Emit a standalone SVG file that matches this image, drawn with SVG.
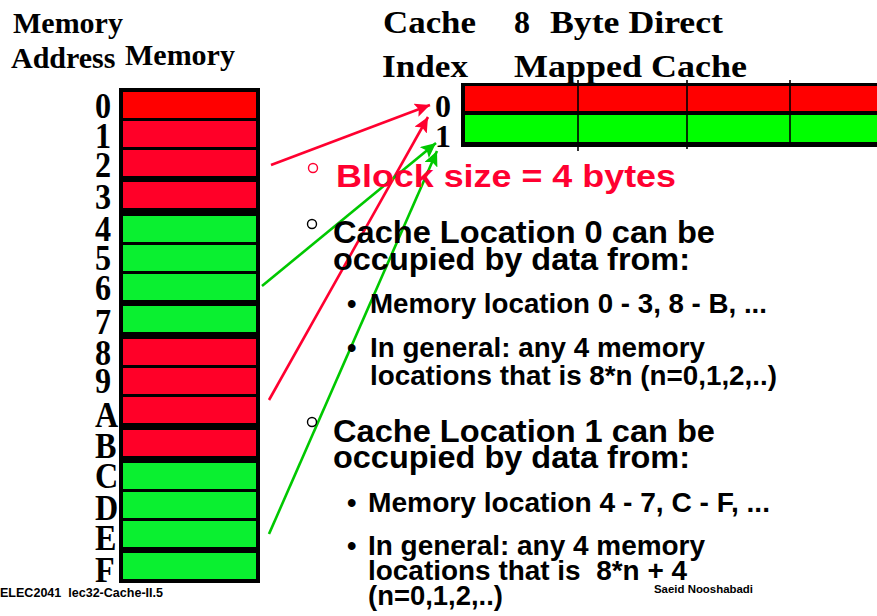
<svg xmlns="http://www.w3.org/2000/svg" width="877" height="616" viewBox="0 0 877 616">
<style>
.serif{font-family:"Liberation Serif","Times New Roman",serif;font-weight:bold;fill:#000}
.hdr{font-size:30px}
.chdr{font-size:32px}
.addr{font-size:35px}
.sans{font-family:"Liberation Sans",Arial,sans-serif;font-weight:bold;fill:#000}
.big{font-size:31px}
.mid{font-size:27px}
.foot{font-size:12px}
.mr{fill:#FF0028}
.mg{fill:#0AF030}
.ring{fill:none;stroke:#000;stroke-width:1.4}
.rl{stroke:#FF0030;stroke-width:2.6;fill:none}
.gl{stroke:#00C800;stroke-width:2.6;fill:none}
.div{stroke:#000;stroke-width:1.6}
</style>
<defs>
<marker id="ahR" markerUnits="userSpaceOnUse" markerWidth="16" markerHeight="14" refX="15" refY="7" orient="auto">
<path d="M0,0 L15,7 L0,14 L3,7 Z" fill="#FF0030"/>
</marker>
<marker id="ahG" markerUnits="userSpaceOnUse" markerWidth="16" markerHeight="14" refX="15" refY="7" orient="auto">
<path d="M0,0 L15,7 L0,14 L3,7 Z" fill="#00C800"/>
</marker>
</defs>
<rect width="877" height="616" fill="#fff"/>

<g id="headers">
<text class="serif hdr" x="13" y="33">Memory</text>
<text class="serif hdr" x="11" y="68">Address</text>
<text class="serif hdr" x="125" y="65">Memory</text>
<text class="serif chdr" x="383" y="33" textLength="93" lengthAdjust="spacingAndGlyphs">Cache</text>
<text class="serif chdr" x="514" y="33">8</text>
<text class="serif chdr" x="550" y="33" textLength="173" lengthAdjust="spacingAndGlyphs">Byte Direct</text>
<text class="serif chdr" x="382" y="77" textLength="86" lengthAdjust="spacingAndGlyphs">Index</text>
<text class="serif chdr" x="514" y="77" textLength="233" lengthAdjust="spacingAndGlyphs">Mapped Cache</text>
</g>

<g id="memory">
<rect x="119" y="88" width="141" height="495" fill="#000"/>
<rect x="123" y="92" width="133" height="26" fill="#FF0000"/>
<rect class="mr" x="123" y="121" width="133" height="26"/>
<rect class="mr" x="123" y="150" width="133" height="26"/>
<rect class="mr" x="123" y="182" width="133" height="26"/>
<rect class="mg" x="123" y="216" width="133" height="26"/>
<rect class="mg" x="123" y="245" width="133" height="26"/>
<rect class="mg" x="123" y="274" width="133" height="26"/>
<rect class="mg" x="123" y="306" width="133" height="26"/>
<rect class="mr" x="123" y="339" width="133" height="26"/>
<rect class="mr" x="123" y="368" width="133" height="26"/>
<rect class="mr" x="123" y="397" width="133" height="26"/>
<rect class="mr" x="123" y="430" width="133" height="26"/>
<rect class="mg" x="123" y="463" width="133" height="26"/>
<rect class="mg" x="123" y="492" width="133" height="26"/>
<rect class="mg" x="123" y="521" width="133" height="26"/>
<rect class="mg" x="123" y="553" width="133" height="26"/>
</g>

<g id="addresses" transform="translate(95 0) scale(0.92 1)">
<text class="serif addr" x="0" y="118">0</text>
<text class="serif addr" x="0" y="148">1</text>
<text class="serif addr" x="0" y="177">2</text>
<text class="serif addr" x="0" y="209">3</text>
<text class="serif addr" x="0" y="241">4</text>
<text class="serif addr" x="0" y="270">5</text>
<text class="serif addr" x="0" y="300">6</text>
<text class="serif addr" x="0" y="334">7</text>
<text class="serif addr" x="0" y="365">8</text>
<text class="serif addr" x="0" y="393">9</text>
<text class="serif addr" x="0" y="427">A</text>
<text class="serif addr" x="0" y="458">B</text>
<text class="serif addr" x="0" y="488">C</text>
<text class="serif addr" x="0" y="520">D</text>
<text class="serif addr" x="0" y="550">E</text>
<text class="serif addr" x="0" y="582">F</text>
</g>

<g id="cache">
<rect x="461" y="83" width="420" height="64" fill="#000"/>
<rect x="465" y="86" width="416" height="25" fill="#FF0000"/>
<rect x="465" y="115" width="416" height="27" fill="#00FF00"/>
<line class="div" x1="578" y1="80" x2="578" y2="151"/>
<line class="div" x1="687" y1="80" x2="687" y2="149"/>
<line class="div" x1="790" y1="80" x2="790" y2="147"/>
<text class="serif chdr" x="435" y="117">0</text>
<text class="serif chdr" x="435" y="147">1</text>
</g>

<g id="connectors">
<line class="rl" x1="271" y1="165" x2="430" y2="105" marker-end="url(#ahR)"/>
<line class="rl" x1="269" y1="400" x2="428" y2="117" marker-end="url(#ahR)"/>
<line class="gl" x1="262" y1="286" x2="436" y2="143" marker-end="url(#ahG)"/>
<line class="gl" x1="269" y1="534" x2="437" y2="151" marker-end="url(#ahG)"/>
</g>

<g id="notes">
<circle cx="313" cy="168" r="4.5" fill="none" stroke="#FF0030" stroke-width="1.4"/>
<text class="sans big" x="336" y="187" style="fill:#FF0030" textLength="340" lengthAdjust="spacingAndGlyphs">Block size = 4 bytes</text>

<circle class="ring" cx="312" cy="224" r="4.5"/>
<text class="sans big" x="333" y="243" textLength="382" lengthAdjust="spacingAndGlyphs">Cache Location 0 can be</text>
<text class="sans big" x="333" y="270" textLength="357" lengthAdjust="spacingAndGlyphs">occupied by data from:</text>
<text class="sans mid" x="347" y="313">•</text>
<text class="sans mid" x="370" y="313" textLength="397" lengthAdjust="spacingAndGlyphs">Memory location 0 - 3, 8 - B, ...</text>
<text class="sans mid" x="347" y="357">•</text>
<text class="sans mid" x="370" y="357" textLength="335" lengthAdjust="spacingAndGlyphs">In general: any 4 memory</text>
<text class="sans mid" x="370" y="385" textLength="407" lengthAdjust="spacingAndGlyphs">locations that is 8*n (n=0,1,2,..)</text>

<circle class="ring" cx="312" cy="422" r="4.5"/>
<text class="sans big" x="333" y="442" textLength="382" lengthAdjust="spacingAndGlyphs">Cache Location 1 can be</text>
<text class="sans big" x="333" y="468" textLength="357" lengthAdjust="spacingAndGlyphs">occupied by data from:</text>
<text class="sans mid" x="347" y="512">•</text>
<text class="sans mid" x="368" y="512" textLength="402" lengthAdjust="spacingAndGlyphs">Memory location 4 - 7, C - F, ...</text>
<text class="sans mid" x="347" y="555">•</text>
<text class="sans mid" x="368" y="555" textLength="337" lengthAdjust="spacingAndGlyphs">In general: any 4 memory</text>
<text class="sans mid" x="368" y="580" textLength="319" lengthAdjust="spacingAndGlyphs" style="white-space:pre">locations that is  8*n + 4</text>
<text class="sans mid" x="368" y="605" textLength="135" lengthAdjust="spacingAndGlyphs">(n=0,1,2,..)</text>
</g>

<g id="footer">
<text class="sans foot" x="0" y="597" textLength="163" lengthAdjust="spacingAndGlyphs" style="white-space:pre">ELEC2041  lec32-Cache-II.5</text>
<text class="sans" x="654" y="593" font-size="11.5" textLength="99" lengthAdjust="spacingAndGlyphs">Saeid Nooshabadi</text>
</g>
</svg>
